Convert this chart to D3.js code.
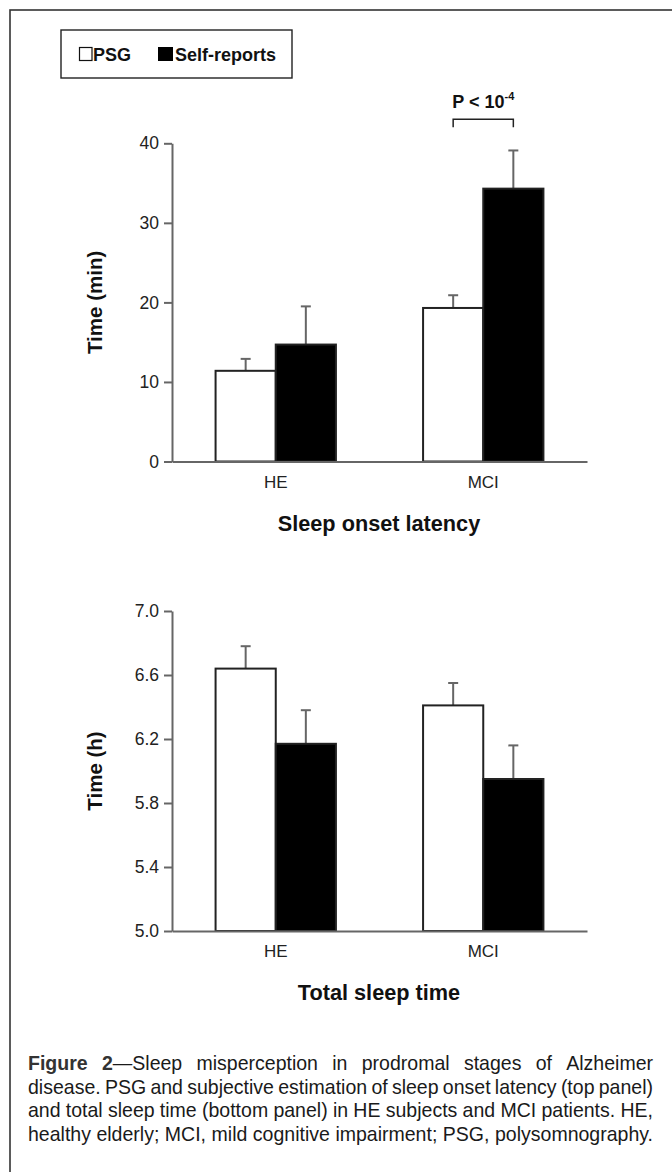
<!DOCTYPE html>
<html>
<head>
<meta charset="utf-8">
<script src="https://cdn.jsdelivr.net/npm/d3@7"></script>
<style>
  body { margin: 0; background: #fff; }
  svg { display: block; font-family: "Liberation Sans", Arial, sans-serif; }
</style>
</head>
<body>
<svg id="fig" width="672" height="1172"></svg>
<script>
// groups and series
var groups = ["HE", "MCI"];
var series = ["PSG", "Self-reports"];

// sleep onset latency (min)
var solPSG = [11.4, 19.3];
var solPSGErr = [1.5, 1.6];
var solSelf = [14.7, 34.3];
var solSelfErr = [4.8, 4.8];
var solTicks = [0, 10, 20, 30, 40];

// total sleep time (h)
var tstPSG = [6.64, 6.41];
var tstPSGErr = [0.14, 0.14];
var tstSelf = [6.17, 5.95];
var tstSelfErr = [0.21, 0.21];
var tstTicks = [5.0, 5.4, 5.8, 6.2, 6.6, 7.0];

var captionLines = [
  [[["Figure", true]], [["2", true], ["\u2014Sleep", false]], "misperception", "in", "prodromal", "stages", "of", "Alzheimer"],
  "disease. PSG and subjective estimation of sleep onset latency (top panel)".split(" "),
  "and total sleep time (bottom panel) in HE subjects and MCI patients. HE,".split(" "),
  "healthy elderly; MCI, mild cognitive impairment; PSG, polysomnography.".split(" ")
];

var svg = d3.select("#fig");
var ink = "#111";

// outer frame (runs off right / bottom edge)
svg.append("rect")
   .attr("x", 10).attr("y", 10)
   .attr("width", 700).attr("height", 1200)
   .attr("fill", "none").attr("stroke", "#333").attr("stroke-width", 1.6);

// legend
var leg = svg.append("g");
leg.append("rect").attr("x", 61).attr("y", 30).attr("width", 231).attr("height", 48)
   .attr("fill", "#fff").attr("stroke", "#222").attr("stroke-width", 1.4);
leg.append("rect").attr("x", 79.5).attr("y", 47.5).attr("width", 12.5).attr("height", 13)
   .attr("fill", "#fff").attr("stroke", "#111").attr("stroke-width", 1.2);
leg.append("text").attr("x", 93).attr("y", 61).text(series[0])
   .attr("font-size", 18).attr("font-weight", "bold").attr("fill", ink);
leg.append("rect").attr("x", 158).attr("y", 47).attr("width", 15).attr("height", 14)
   .attr("fill", "#000");
leg.append("text").attr("x", 175).attr("y", 61).text(series[1])
   .attr("font-size", 18).attr("font-weight", "bold").attr("fill", ink);

var drawPanel = function(cfg)
{
  var x0 = d3.scaleBand().domain(groups).range([172, 587])
             .paddingInner(0.42).paddingOuter(0.21);
  var x1 = d3.scaleBand().domain(series).range([0, x0.bandwidth()]);
  var y = d3.scaleLinear().domain(cfg.domain).range(cfg.range);

  var g = svg.append("g");

  // y axis
  var ya = g.append("g").attr("transform", "translate(172,0)")
            .call(d3.axisLeft(y).tickValues(cfg.ticks).tickFormat(cfg.fmt)
                    .tickSize(8).tickSizeOuter(0).tickPadding(5));
  ya.select(".domain").attr("stroke", "#666").attr("stroke-width", 2);
  ya.selectAll(".tick line").attr("stroke", "#666").attr("stroke-width", 2);
  ya.selectAll(".tick text").attr("font-size", 17.5).attr("fill", "#222")
    .attr("font-family", "Liberation Sans, Arial, sans-serif");

  // bars
  var rows = groups.map(function(grp, i)
  {
    return [
      {g: grp, s: series[0], v: cfg.psg[i], e: cfg.psgErr[i]},
      {g: grp, s: series[1], v: cfg.self[i], e: cfg.selfErr[i]}
    ];
  });
  var data = rows[0].concat(rows[1]);

  // error bars first so the bar outline sits on top
  data.forEach(function(d)
  {
    var cx = x0(d.g) + x1(d.s) + x1.bandwidth() / 2;
    g.append("line").attr("x1", cx).attr("x2", cx)
     .attr("y1", y(d.v)).attr("y2", y(d.v + d.e))
     .attr("stroke", "#666").attr("stroke-width", 2);
    g.append("line").attr("x1", cx - 5).attr("x2", cx + 5)
     .attr("y1", y(d.v + d.e)).attr("y2", y(d.v + d.e))
     .attr("stroke", "#666").attr("stroke-width", 2);
  });

  g.selectAll("rect.bar").data(data).enter().append("rect")
   .attr("class", "bar")
   .attr("x", function(d){ return x0(d.g) + x1(d.s); })
   .attr("y", function(d){ return y(d.v); })
   .attr("width", x1.bandwidth())
   .attr("height", function(d){ return y(cfg.domain[0]) - y(d.v); })
   .attr("fill", function(d){ return d.s == series[0] ? "#fff" : "#000"; })
   .attr("stroke", "#222").attr("stroke-width", 2);

  // x axis
  var base = y(cfg.domain[0]);
  var xa = g.append("g").attr("transform", "translate(0," + base + ")")
            .call(d3.axisBottom(x0).tickSize(0).tickSizeOuter(0).tickPadding(14));
  xa.select(".domain").attr("stroke", "#666").attr("stroke-width", 2);
  xa.selectAll(".tick text").attr("font-size", 17).attr("fill", "#222")
    .attr("font-family", "Liberation Sans, Arial, sans-serif");

  // titles
  g.append("text").attr("transform", "translate(102," + (cfg.range[0] + cfg.range[1]) / 2 + ") rotate(-90)")
   .attr("text-anchor", "middle").attr("font-size", 20.5).attr("font-weight", "bold")
   .attr("fill", ink).text(cfg.ylab);
  g.append("text").attr("x", 379).attr("y", base + 69)
   .attr("text-anchor", "middle").attr("font-size", 21.7).attr("font-weight", "bold")
   .attr("fill", ink).text(cfg.title);

  return {x0: x0, x1: x1, y: y, g: g};
}

var topPanel = drawPanel({
  domain: [0, 40], range: [461.5, 143.3], ticks: solTicks,
  fmt: d3.format("d"),
  psg: solPSG, psgErr: solPSGErr, self: solSelf, selfErr: solSelfErr,
  ylab: "Time (min)", title: "Sleep onset latency"
});

drawPanel({
  domain: [5.0, 7.0], range: [931, 611], ticks: tstTicks,
  fmt: d3.format(".1f"),
  psg: tstPSG, psgErr: tstPSGErr, self: tstSelf, selfErr: tstSelfErr,
  ylab: "Time (h)", title: "Total sleep time"
});

// significance bracket over MCI
var bx1 = topPanel.x0("MCI") + topPanel.x1(series[0]) + topPanel.x1.bandwidth() / 2;
var bx2 = topPanel.x0("MCI") + topPanel.x1(series[1]) + topPanel.x1.bandwidth() / 2;
var by = topPanel.y(40) - 24;
topPanel.g.append("path")
     .attr("d", "M" + bx1 + "," + (by + 8) + "V" + by + "H" + bx2 + "V" + (by + 8))
     .attr("fill", "none").attr("stroke", "#222").attr("stroke-width", 1.5);
var pt = topPanel.g.append("text").attr("x", (bx1 + bx2) / 2).attr("y", by - 11)
     .attr("text-anchor", "middle").attr("font-size", 18).attr("font-weight", "bold")
     .attr("fill", ink);
pt.append("tspan").text("P < 10");
pt.append("tspan").attr("dy", -8).attr("font-size", 11).text("-4");

// caption, justified line by line; font sized so the last line fills the width
var capLeft = 28, capRight = 653, capY = 1070, capStep = 23.5;
var measure = svg.append("text").attr("font-size", 17).attr("visibility", "hidden");
measure.text(captionLines[3].join(" "));
var capSize = 17 * (capRight - capLeft) / measure.node().getComputedTextLength();
measure.text("").attr("font-size", capSize);

var unitWidth = function(unit)
{
  var parts = typeof unit == "string" ? [[unit, false]] : unit;
  measure.selectAll("*").remove();
  parts.forEach(function(p)
  {
    measure.append("tspan").attr("font-weight", p[1] ? "bold" : "normal").text(p[0]);
  });
  return measure.node().getComputedTextLength();
};
captionLines.forEach(function(line, li)
{
  var widths = line.map(unitWidth);
  var total = d3.sum(widths);
  var gap = (capRight - capLeft - total) / (line.length - 1);
  var cx = capLeft;
  line.forEach(function(unit, ui)
  {
    var parts = typeof unit == "string" ? [[unit, false]] : unit;
    var t = svg.append("text").attr("x", cx).attr("y", capY + li * capStep)
               .attr("font-size", capSize).attr("fill", "#1a1a1a");
    parts.forEach(function(p)
    {
      t.append("tspan").attr("font-weight", p[1] ? "bold" : "normal")
       .attr("fill", p[1] ? "#333" : "#1a1a1a").text(p[0]);
    });
    cx += widths[ui] + gap;
  });
});
measure.remove();
</script>
</body>
</html>
